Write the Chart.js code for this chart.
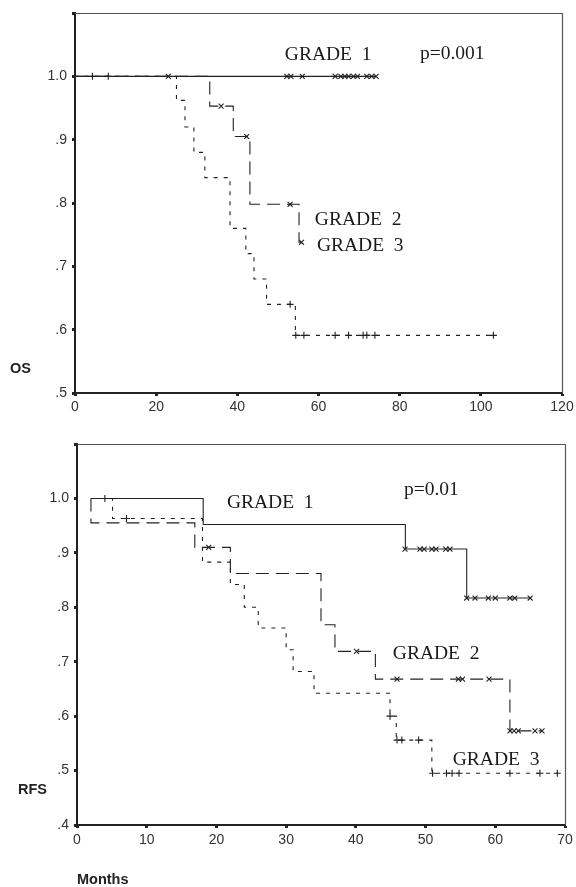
<!DOCTYPE html>
<html>
<head>
<meta charset="utf-8">
<script src="https://cdn.jsdelivr.net/npm/chart.js@4.4.0/dist/chart.umd.min.js"></script>
<style>
  body { margin: 0; background: #fff; }
  canvas { position: absolute; left: 0; }
  #osChart { top: 0; }
  #rfsChart { top: 430px; }
</style>
</head>
<body>
<canvas id="osChart" width="576" height="430"></canvas>
<canvas id="rfsChart" width="576" height="457"></canvas>
<script>
// ---- OS (overall survival) curves, months / cumulative survival ----
const osG1Time = [0, 74.2];
const osG1Surv = [1, 1];
const osG1CensTime = [52.2, 53.2, 56.0, 64.1, 65.5, 66.5, 67.4, 68.6, 69.6, 71.9, 73.1, 74.2];
const osG1CensSurv = [1, 1, 1, 1, 1, 1, 1, 1, 1, 1, 1, 1];

const osG2Time = [0, 33.2, 39.0, 43.1, 55.2, 55.8];
const osG2Surv = [1, 0.953, 0.905, 0.798, 0.738, 0.738];
const osG2CensTime = [23.0, 36.0, 42.3, 53.0, 55.8];
const osG2CensSurv = [1, 0.953, 0.905, 0.798, 0.738];

const osG3Time = [0, 25.0, 27.1, 29.3, 32.0, 38.2, 42.1, 44.1, 47.2, 54.3, 103.1];
const osG3Surv = [1, 0.962, 0.920, 0.880, 0.840, 0.760, 0.720, 0.680, 0.640, 0.591, 0.591];
const osG3CensTime = [4.3, 8.2, 53.0, 54.4, 56.4, 64.1, 67.4, 71.0, 71.9, 73.9, 103.1];
const osG3CensSurv = [1, 1, 0.640, 0.591, 0.591, 0.591, 0.591, 0.591, 0.591, 0.591, 0.591];

const osXTicks = [0, 20, 40, 60, 80, 100, 120];
const osYTicks = [0.5, 0.6, 0.7, 0.8, 0.9, 1.0, 1.1];
const osYLabels = ['.5', '.6', '.7', '.8', '.9', '1.0', ''];

// ---- RFS (relapse free survival) curves ----
const rfsG1Time = [2, 18.1, 47.1, 55.9, 65.0];
const rfsG1Surv = [1, 0.952, 0.907, 0.817, 0.817];
const rfsG1CensTime = [47.05, 49.2, 49.8, 50.9, 51.5, 52.9, 53.5, 55.9, 57.1, 59.0, 60.0, 62.1, 62.8, 65.0];
const rfsG1CensSurv = [0.907, 0.907, 0.907, 0.907, 0.907, 0.907, 0.907, 0.817, 0.817, 0.817, 0.817, 0.817, 0.817, 0.817];

const rfsG2Time = [2, 2, 16.9, 22.0, 35.0, 37.0, 42.8, 62.1, 66.7];
const rfsG2Surv = [1, 0.955, 0.910, 0.862, 0.768, 0.719, 0.668, 0.573, 0.573];
const rfsG2CensTime = [18.9, 40.1, 45.9, 54.7, 55.3, 59.1, 62.1, 62.7, 63.3, 65.7, 66.7];
const rfsG2CensSurv = [0.910, 0.719, 0.668, 0.668, 0.668, 0.668, 0.573, 0.573, 0.573, 0.573, 0.573];

const rfsG3Time = [2, 5.1, 18.0, 22.0, 24.0, 26.0, 30.0, 31.0, 34.0, 44.9, 45.8, 50.9, 68.9];
const rfsG3Surv = [1, 0.963, 0.883, 0.842, 0.800, 0.762, 0.722, 0.682, 0.642, 0.600, 0.556, 0.495, 0.495];
const rfsG3CensTime = [4.0, 7.1, 44.9, 45.9, 46.6, 49.0, 51.0, 53.0, 53.8, 54.8, 62.1, 66.4, 68.9];
const rfsG3CensSurv = [1, 0.963, 0.600, 0.556, 0.556, 0.556, 0.495, 0.495, 0.495, 0.495, 0.495, 0.495, 0.495];

const rfsXTicks = [0, 10, 20, 30, 40, 50, 60, 70];
const rfsYTicks = [0.4, 0.5, 0.6, 0.7, 0.8, 0.9, 1.0, 1.1];
const rfsYLabels = ['.4', '.5', '.6', '.7', '.8', '.9', '1.0', ''];

const INK = '#222';

function pts(xs, ys) {
  return xs.map((x, i) => ({ x: x, y: ys[i] }));
}

function curve(xs, ys, dash) {
  return {
    data: pts(xs, ys),
    showLine: true,
    stepped: 'before',
    borderColor: INK,
    borderWidth: 1.1,
    borderDash: dash,
    pointRadius: 0,
    fill: false
  };
}

function censors(xs, ys, style) {
  return {
    data: pts(xs, ys),
    showLine: false,
    pointStyle: style,
    pointRadius: 3.5,
    borderColor: INK,
    backgroundColor: INK,
    pointBorderWidth: 1.1
  };
}

// draws the thin top/right frame, the free labels and the horizontal y title
const kmText = {
  id: 'kmText',
  afterDraw(chart, args, opts) {
    const ctx = chart.ctx;
    const a = chart.chartArea;
    const xs = chart.scales.x, ys = chart.scales.y;
    ctx.save();
    ctx.strokeStyle = '#555';
    ctx.lineWidth = 1.2;
    ctx.beginPath();
    ctx.moveTo(a.left, a.top + 0.5);
    ctx.lineTo(a.right + 0.5, a.top + 0.5);
    ctx.lineTo(a.right + 0.5, a.bottom);
    ctx.stroke();

    ctx.fillStyle = '#1a1a1a';
    ctx.textAlign = 'left';
    ctx.textBaseline = 'alphabetic';
    ctx.font = '19.5px "Liberation Serif", "Times New Roman", serif';
    opts.labels.forEach(l => {
      ctx.fillText(l.text, xs.getPixelForValue(l.x), ys.getPixelForValue(l.y));
    });

    ctx.fillStyle = '#222';
    ctx.font = 'bold 14.5px "Liberation Sans", Arial, sans-serif';
    ctx.fillText(opts.yTitle.text, opts.yTitle.x, opts.yTitle.y);
    ctx.restore();
  }
};

function makeChart(id, cfg) {
  const tickFont = { family: '"Liberation Sans", Arial, sans-serif', size: 14 };
  return new Chart(document.getElementById(id), {
    type: 'scatter',
    data: { datasets: cfg.datasets },
    options: {
      responsive: false,
      animation: false,
      layout: { padding: { top: cfg.padTop, right: cfg.padRight, left: 0, bottom: 0 } },
      plugins: {
        legend: { display: false },
        tooltip: { enabled: false },
        kmText: { labels: cfg.labels, yTitle: cfg.yTitle }
      },
      scales: {
        x: {
          type: 'linear',
          min: cfg.xTicks[0],
          max: cfg.xTicks[cfg.xTicks.length - 1],
          afterBuildTicks: s => { s.ticks = cfg.xTicks.map(v => ({ value: v })); },
          afterFit: s => { s.height = cfg.xHeight; s.paddingLeft = 0; s.paddingRight = 0; },
          grid: { display: true, drawOnChartArea: false, drawTicks: true, tickLength: 3, tickWidth: 3, tickColor: INK },
          border: { display: true, width: 2, color: INK },
          ticks: { color: '#333', font: tickFont, padding: cfg.xPad, maxRotation: 0, autoSkip: false,
                   callback: v => String(v) },
          title: cfg.xTitle
        },
        y: {
          type: 'linear',
          min: cfg.yTicks[0],
          max: cfg.yTicks[cfg.yTicks.length - 1],
          afterBuildTicks: s => { s.ticks = cfg.yTicks.map(v => ({ value: v })); },
          afterFit: s => { s.width = cfg.yWidth; s.paddingTop = 0; s.paddingBottom = 0; },
          grid: { display: true, drawOnChartArea: false, drawTicks: true, tickLength: 3, tickWidth: 3, tickColor: INK },
          border: { display: true, width: 2, color: INK },
          ticks: { color: '#333', font: tickFont, padding: 5, autoSkip: false,
                   callback: (v, i) => cfg.yLabels[i] }
        }
      }
    },
    plugins: [kmText]
  });
}

makeChart('osChart', {
  datasets: [
    curve(osG1Time, osG1Surv, []),
    curve(osG2Time, osG2Surv, [13, 7]),
    curve(osG3Time, osG3Surv, [4, 6]),
    censors(osG1CensTime, osG1CensSurv, 'crossRot'),
    censors(osG2CensTime, osG2CensSurv, 'crossRot'),
    censors(osG3CensTime, osG3CensSurv, 'cross')
  ],
  xTicks: osXTicks, yTicks: osYTicks, yLabels: osYLabels,
  padTop: 13, padRight: 14, yWidth: 75, xHeight: 37, xPad: 3,
  xTitle: { display: false },
  labels: [
    { text: 'GRADE  1', x: 51.7, y: 1.026 },
    { text: 'p=0.001', x: 85.0, y: 1.027 },
    { text: 'GRADE  2', x: 59.1, y: 0.766 },
    { text: 'GRADE  3', x: 59.6, y: 0.725 }
  ],
  yTitle: { text: 'OS', x: 10, y: 373 }
});

makeChart('rfsChart', {
  datasets: [
    curve(rfsG1Time, rfsG1Surv, []),
    curve(rfsG2Time, rfsG2Surv, [13, 7]),
    curve(rfsG3Time, rfsG3Surv, [4, 6]),
    censors(rfsG1CensTime, rfsG1CensSurv, 'crossRot'),
    censors(rfsG2CensTime, rfsG2CensSurv, 'crossRot'),
    censors(rfsG3CensTime, rfsG3CensSurv, 'cross')
  ],
  xTicks: rfsXTicks, yTicks: rfsYTicks, yLabels: rfsYLabels,
  padTop: 14, padRight: 11, yWidth: 77, xHeight: 62, xPad: 4,
  xTitle: {
    display: true, text: 'Months', align: 'start', color: '#222',
    font: { family: '"Liberation Sans", Arial, sans-serif', size: 14.5, weight: 'bold', lineHeight: 1 },
    padding: { top: 0, bottom: 0 }
  },
  labels: [
    { text: 'GRADE  1', x: 21.5, y: 0.982 },
    { text: 'p=0.01', x: 46.9, y: 1.007 },
    { text: 'GRADE  2', x: 45.3, y: 0.705 },
    { text: 'GRADE  3', x: 53.9, y: 0.510 }
  ],
  yTitle: { text: 'RFS', x: 18, y: 364 }
});
</script>
</body>
</html>
